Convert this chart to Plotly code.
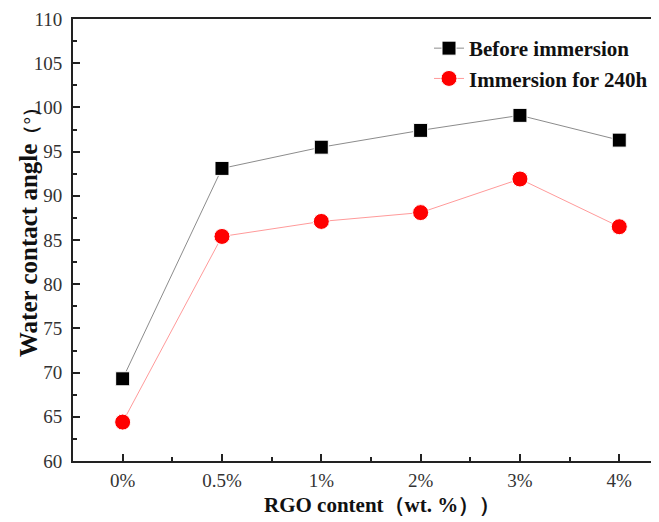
import plotly.graph_objects as go

categories = ["0%", "0.5%", "1%", "2%", "3%", "4%"]
before = [69.3, 93.1, 95.5, 97.4, 99.1, 96.3]
after240 = [64.4, 85.4, 87.1, 88.1, 91.9, 86.5]
series_names = ["Before immersion", "Immersion for 240h"]
y_ticks = [60, 65, 70, 75, 80, 85, 90, 95, 100, 105, 110]

xpos = list(range(len(categories)))
serif = "Liberation Serif, Times New Roman, serif"

# the page body has an 8px margin, so the figure is laid out 8px up/left of the target
OFF = 8
W, H = 659 - OFF, 522 - OFF
L, T, R = 73 - OFF, 19 - OFF, 0
PB = 461 - OFF
B = H - PB
PW, PH = W - L - R, PB - T

fig = go.Figure()
fig.add_trace(go.Scatter(
    x=xpos, y=before, name=series_names[0], mode="lines+markers",
    line=dict(color="#8c8c8c", width=1),
    marker=dict(symbol="square", size=14, color="black", line=dict(color="white", width=1)),
))
fig.add_trace(go.Scatter(
    x=xpos, y=after240, name=series_names[1], mode="lines+markers",
    line=dict(color="#ff9a9a", width=1),
    marker=dict(symbol="circle", size=16, color="#ff0000", line=dict(color="white", width=1)),
))

fig.update_layout(
    width=W, height=H,
    margin=dict(l=L, r=R, t=T, b=B, autoexpand=False),
    plot_bgcolor="white", paper_bgcolor="white",
    font=dict(family=serif, color="#333333"),
    showlegend=True,
    legend=dict(
        x=(429 - 73) / PW, y=1 - (28 - 19) / PH, xanchor="left", yanchor="top",
        bgcolor="rgba(0,0,0,0)", borderwidth=0,
        font=dict(family=serif, size=21, color="#111111", weight="bold"),
        tracegroupgap=0, itemsizing="trace",
    ),
    xaxis=dict(
        range=[-0.5, 5.40], tickmode="array", tickvals=xpos, ticktext=categories,
        showline=True, linecolor="#222222", linewidth=2, mirror=True,
        ticks="inside", ticklen=7, tickwidth=1.5, tickcolor="#222222",
        showgrid=False, zeroline=False, automargin=False,
        tickfont=dict(family=serif, size=19, color="#333333"),
        ticklabelstandoff=1,
        minor=dict(dtick=0.5, tick0=-0.5, ticks="inside", ticklen=4, tickwidth=1.5, tickcolor="#222222"),
    ),
    yaxis=dict(
        range=[60, 110], tickmode="array", tickvals=y_ticks,
        showline=True, linecolor="#222222", linewidth=2, mirror=False,
        ticks="inside", ticklen=7, tickwidth=1.5, tickcolor="#222222",
        showgrid=False, zeroline=False, automargin=False,
        tickfont=dict(family=serif, size=19, color="#333333"),
        ticklabelstandoff=5,
        minor=dict(dtick=2.5, tick0=60, ticks="inside", ticklen=4, tickwidth=1.5, tickcolor="#222222"),
    ),
    annotations=[
        dict(text="<b>RGO content（wt. %））</b>", xref="paper", yref="paper",
             x=(382 - 73) / PW, y=-(505 - 461) / PH, xanchor="center", yanchor="middle",
             showarrow=False, font=dict(family=serif, size=21, color="#111111")),
        dict(text="<b>Water contact angle<span style='font-size:19px'>（°）</span></b>",
             xref="paper", yref="paper",
             x=-(73 - 28) / PW, y=(461 - 228) / PH, xanchor="center", yanchor="middle",
             textangle=-90, showarrow=False, font=dict(family=serif, size=25, color="#111111")),
    ],
)

fig.write_html("out.html")
